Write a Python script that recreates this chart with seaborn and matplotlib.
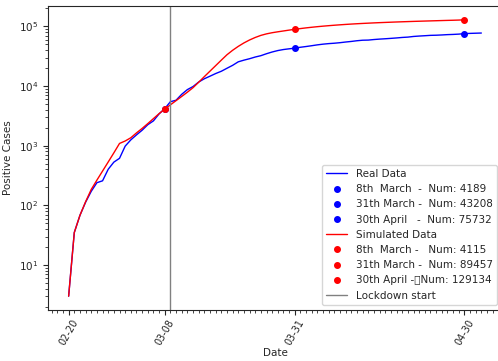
import numpy as np
import pandas as pd
import seaborn as sns
import matplotlib
matplotlib.use('Agg')
import matplotlib.pyplot as plt
import matplotlib.dates as mdates

# daily positive cases, day 0 = 2020-02-20
start_date = '2020-02-20'
real_cases = [3, 35, 68, 113, 172, 240, 258, 403, 531, 615, 984, 1254, 1520, 1820, 2251, 2612,
              3420, 4189, 5469, 5791, 7280, 8725, 9820, 11685, 13272, 14649, 16220, 17713, 19884,
              22264, 25515, 27206, 28761, 30703, 32346, 34889, 37298, 39415, 41007, 42161, 43208,
              44773, 46065, 47520, 49118, 50455, 51534, 52325, 53414, 54802, 56048, 57592, 58729,
              59052, 60314, 61326, 62153, 63094, 64135, 65381, 66236, 67931, 68993, 69891, 70873,
              71256, 71969, 72889, 73479, 74346, 75732, 76469, 77002, 77528]
sim_cases = [3, 35, 68, 115, 185, 265, 376, 534, 760, 1092, 1200, 1360, 1640, 1950, 2350, 2850,
             3450, 4115, 4850, 5700, 6700, 7900, 9400, 11600, 14400, 17800, 22000, 27200, 33500,
             39800, 46300, 52900, 59300, 65300, 70800, 75100, 78500, 81300, 84000, 86800, 89457,
             92100, 94600, 96900, 99100, 101100, 103000, 104800, 106500, 108100, 109600, 111000,
             112300, 113500, 114700, 115800, 116800, 117800, 118800, 119700, 120600, 121500,
             122300, 123100, 123900, 124700, 125500, 126300, 127000, 127900, 129134]

# highlighted days
key_dates = ['2020-03-08', '2020-03-31', '2020-04-30']
real_labels = ['8th  March  -  Num: 4189', '31th March -  Num: 43208', '30th April   -  Num: 75732']
sim_labels = ['8th  March -   Num: 4115', '31th March -  Num: 89457', '30th April -\tNum: 129134']
lockdown_date = '2020-03-09'
tick_dates = ['2020-02-20', '2020-03-08', '2020-03-31', '2020-04-30']

real_df = pd.DataFrame({'Date': pd.date_range(start_date, periods=len(real_cases)), 'Cases': real_cases})
sim_df = pd.DataFrame({'Date': pd.date_range(start_date, periods=len(sim_cases)), 'Cases': sim_cases})

sns.set_style('ticks')
plt.rcParams['font.family'] = ['DejaVu Sans']

fig = plt.figure(figsize=(4.98, 3.61), dpi=100)
ax = fig.add_axes([48/498, 51/361, 454/498, 304/361])

sns.lineplot(x='Date', y='Cases', data=real_df, color='blue', lw=1, label='Real Data', ax=ax)
for d, lab in zip(key_dates, real_labels):
    v = real_df.loc[real_df['Date'] == pd.Timestamp(d), 'Cases'].values
    ax.plot([pd.Timestamp(d)], v, 'o', color='blue', ms=4, label=lab)

sns.lineplot(x='Date', y='Cases', data=sim_df, color='red', lw=1, label='Simulated Data', ax=ax)
for d, lab in zip(key_dates, sim_labels):
    v = sim_df.loc[sim_df['Date'] == pd.Timestamp(d), 'Cases'].values
    ax.plot([pd.Timestamp(d)], v, 'o', color='red', ms=4, label=lab)

ax.axvline(pd.Timestamp(lockdown_date), color='gray', lw=1, label='Lockdown start')

ax.set_yscale('log')
ax.margins(x=0.05, y=0.05)
ax.set_xticks([pd.Timestamp(t) for t in tick_dates])
ax.xaxis.set_major_formatter(mdates.DateFormatter('%m-%d'))
ax.xaxis.set_minor_locator(mdates.DayLocator())
plt.setp(ax.get_xticklabels(), rotation=60)
ax.tick_params(axis='y', labelsize=7.5)
ax.tick_params(axis='x', labelsize=7, pad=2)
ax.tick_params(which='minor', length=2)

ax.set_xlabel('Date', fontsize=7.5, labelpad=1)
ax.set_ylabel('Positive Cases', fontsize=7.5)

ax.legend(loc='lower right', fontsize=7.5, labelspacing=0.5)

plt.savefig('out.png', dpi=100)
